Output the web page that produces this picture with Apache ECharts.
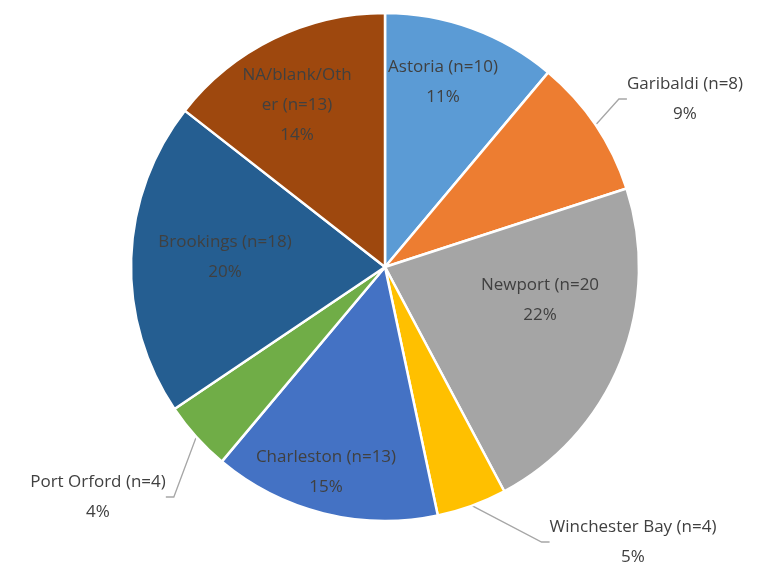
<!DOCTYPE html>
<html>
<head>
<meta charset="utf-8">
<script src="https://cdn.jsdelivr.net/npm/echarts@6/dist/echarts.min.js"></script>
<style>html,body{margin:0;padding:0;background:#fff}#c{width:783px;height:567px}</style>
</head>
<body>
<div id="c"></div>
<script>
const categories = ['Astoria (n=10)', 'Garibaldi (n=8)', 'Newport (n=20', 'Winchester Bay (n=4)', 'Charleston (n=13)', 'Port Orford (n=4)', 'Brookings (n=18)', 'NA/blank/Oth\ner (n=13)'];
const counts = [10, 8, 20, 4, 13, 4, 18, 13];
const percentLabels = ['11%', '9%', '22%', '5%', '15%', '4%', '20%', '14%'];
const colors = ['#5B9BD5', '#ED7D31', '#A5A5A5', '#FFC000', '#4472C4', '#70AD47', '#255E91', '#9E480E'];
// label placement relative to pie centre (px)
const labelOffsets = [[58, -185], [300, -168], [155, 33], [248, 275], [-59, 205], [-287, 230], [-160, -10], [-88, -162]];
const outside = [false, true, false, true, false, true, false, false];

const CX = 385, CY = 267, R = 254;

const chart = echarts.init(document.getElementById('c'));
chart.setOption({
  animation: false,
  series: [{
    type: 'pie',
    center: [CX, CY],
    radius: [0, R],
    startAngle: 90,
    clockwise: true,
    avoidLabelOverlap: false,
    itemStyle: { borderColor: '#fff', borderWidth: 2.5 },
    label: {
      show: true,
      position: 'inside',
      color: '#404040',
      fontFamily: 'Open Sans',
      fontSize: 17,
      lineHeight: 30,
      align: 'center',
      formatter: p => categories[p.dataIndex] + '\n' + percentLabels[p.dataIndex]
    },
    labelLine: { show: false },
    labelLayout: p => {
      const o = labelOffsets[p.dataIndex];
      return { x: CX + o[0], y: CY + o[1], align: 'center', verticalAlign: 'middle' };
    },
    data: counts.map((v, i) => ({
      name: categories[i],
      value: v,
      itemStyle: { color: colors[i] },
      label: outside[i] ? { position: 'outside' } : undefined,
      labelLine: outside[i] ? { show: true, length: 12, length2: 8, lineStyle: { color: '#A6A6A6', width: 1.3 } } : undefined
    }))
  }]
});
</script>
</body>
</html>
